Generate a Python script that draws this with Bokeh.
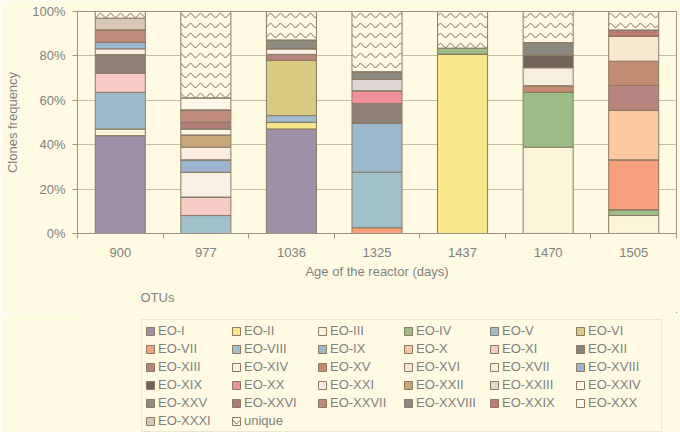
from bokeh.plotting import figure
from bokeh.layouts import column
from bokeh.models import (Range1d, FixedTicker, Legend, LegendItem, Title,
                          PrintfTickFormatter, ColumnDataSource)
from bokeh.embed import file_html
from bokeh.resources import INLINE

# ---- data ----
reactor_age = ["900", "977", "1036", "1325", "1437", "1470", "1505"]

otu_names = ["EO-I", "EO-II", "EO-III", "EO-IV", "EO-V", "EO-VI", "EO-VII",
             "EO-VIII", "EO-IX", "EO-X", "EO-XI", "EO-XII", "EO-XIII", "EO-XIV",
             "EO-XV", "EO-XVI", "EO-XVII", "EO-XVIII", "EO-XIX", "EO-XX", "EO-XXI",
             "EO-XXII", "EO-XXIII", "EO-XXIV", "EO-XXV", "EO-XXVI", "EO-XXVII",
             "EO-XXVIII", "EO-XXIX", "EO-XXX", "EO-XXXI", "unique"]

EO_I = [44.1, 0, 47.1, 0, 0, 0, 0]
EO_II = [0, 0, 3.0, 0, 80.8, 0, 0]
EO_III = [3.0, 0, 0, 0, 0, 38.9, 8.1]
EO_IV = [0, 0, 0, 0, 2.7, 24.7, 2.6]
EO_V = [16.5, 0, 3.0, 0, 0, 0, 0]
EO_VI = [0, 0, 24.9, 0, 0, 0, 0]
EO_VII = [0, 0, 0, 2.6, 0, 0, 22.5]
EO_VIII = [0, 8.1, 0, 25.0, 0, 0, 0]
EO_IX = [0, 0, 0, 22.1, 0, 0, 0]
EO_X = [0, 0, 0, 0, 0, 0, 22.2]
EO_XI = [8.6, 8.3, 0, 0, 0, 0, 0]
EO_XII = [8.4, 0, 0, 8.9, 0, 0, 0]
EO_XIII = [0, 0, 2.7, 0, 0, 0, 11.3]
EO_XIV = [0, 11.2, 2.6, 0, 0, 0, 0]
EO_XV = [0, 0, 0, 0, 0, 3.0, 10.9]
EO_XVI = [0, 0, 0, 0, 0, 0, 11.3]
EO_XVII = [2.6, 0, 0, 0, 0, 8.1, 0]
EO_XVIII = [3.0, 5.6, 0, 0, 0, 0, 0]
EO_XIX = [0, 0, 0, 0, 0, 5.7, 0]
EO_XX = [0, 0, 0, 5.7, 0, 0, 0]
EO_XXI = [0, 5.7, 0, 0, 0, 0, 0]
EO_XXII = [0, 5.5, 0, 0, 0, 0, 0]
EO_XXIII = [0, 0, 0, 5.1, 0, 0, 0]
EO_XXIV = [0, 2.7, 0, 0, 0, 0, 0]
EO_XXV = [0, 0, 3.9, 3.5, 0, 0, 0]
EO_XXVI = [0, 3.0, 0, 0, 0, 0, 0]
EO_XXVII = [5.6, 5.6, 0, 0, 0, 0, 0]
EO_XXVIII = [0, 0, 0, 0, 0, 5.6, 0]
EO_XXIX = [0, 0, 0, 0, 0, 0, 2.8]
EO_XXX = [0, 5.4, 0, 0, 0, 0, 0]
EO_XXXI = [5.2, 0, 0, 0, 0, 0, 0]
UNIQUE = [3.0, 38.9, 12.8, 27.1, 16.5, 14.0, 8.3]

y_ticks = [0, 20, 40, 60, 80, 100]

series = [EO_I, EO_II, EO_III, EO_IV, EO_V, EO_VI, EO_VII, EO_VIII, EO_IX, EO_X,
          EO_XI, EO_XII, EO_XIII, EO_XIV, EO_XV, EO_XVI, EO_XVII, EO_XVIII, EO_XIX,
          EO_XX, EO_XXI, EO_XXII, EO_XXIII, EO_XXIV, EO_XXV, EO_XXVI, EO_XXVII,
          EO_XXVIII, EO_XXIX, EO_XXX, EO_XXXI, UNIQUE]

colors = ["#9e90a8", "#f8e68a", "#fbf3da", "#9cbc88", "#a0bccc", "#d8ca80",
          "#f8a07c", "#a0c0cc", "#9cb8cc", "#fcc8a0", "#f8ccc6", "#8e8278",
          "#b88480", "#f8f1e4", "#c48a72", "#f8e8d2", "#f6efe0", "#9cb4d0",
          "#706458", "#f0909a", "#f8ede0", "#c8a878", "#e0d6d4", "#fdf8e4",
          "#8e8c80", "#b07c78", "#c08c80", "#8c8a80", "#c07c74", "#fdf8e8",
          "#d8c8b8", "#fffbe2"]

BG = "#fffbe2"
TXT = "#808080"
AX = "#a09480"
FONT = "Liberation Sans"

positions = [i + 0.5 for i in range(len(reactor_age))]
data = {"x": positions}
for name, vals in zip(otu_names, series):
    data[name] = vals
source = ColumnDataSource(data)

hatches = ["blank"] * (len(otu_names) - 1) + ["horizontal_wave"]
bar_style = dict(width=0.585, source=source, fill_color=colors,
                 line_color="#8a7a62", line_width=1, hatch_pattern=hatches,
                 hatch_color="#6e6658", hatch_scale=10, hatch_weight=1)

# ---- main chart ----
p = figure(width=680, height=312, output_backend="svg", toolbar_location=None,
           x_range=Range1d(0, len(reactor_age)), y_range=Range1d(0, 100),
           min_border_left=77, min_border_top=11, min_border_right=4,
           min_border_bottom=79)
p.background_fill_color = BG
p.border_fill_color = BG
p.outline_line_color = AX
p.outline_line_width = 1

p.vbar_stack(otu_names, x="x", **bar_style)

p.xaxis.ticker = FixedTicker(ticks=positions, minor_ticks=list(range(len(reactor_age) + 1)))
p.xaxis.major_label_overrides = {pos: lab for pos, lab in zip(positions, reactor_age)}
p.xaxis.major_tick_out = 0
p.xaxis.major_tick_in = 0
p.xaxis.minor_tick_out = 5
p.xaxis.minor_tick_in = 0
p.xaxis.axis_label = "Age of the reactor (days)"

p.yaxis.ticker = FixedTicker(ticks=y_ticks, minor_ticks=[])
p.yaxis.formatter = PrintfTickFormatter(format="%d%%")
p.yaxis.major_tick_out = 5
p.yaxis.major_tick_in = 0
p.yaxis.axis_label = "Clones frequency"

for ax in (p.xaxis, p.yaxis):
    ax.axis_line_color = AX
    ax.major_tick_line_color = AX
    ax.minor_tick_line_color = AX
    ax.major_label_text_color = TXT
    ax.major_label_text_font = FONT
    ax.major_label_text_font_size = "13px"
    ax.axis_label_text_color = TXT
    ax.axis_label_text_font = FONT
    ax.axis_label_text_font_size = "13px"
    ax.axis_label_text_font_style = "normal"
p.xaxis.major_label_standoff = 9
p.xaxis.axis_label_standoff = 4
p.yaxis.major_label_standoff = 7
p.yaxis.axis_label_standoff = 9

p.xgrid.visible = False
p.ygrid.grid_line_color = "#c8bca0"
p.ygrid.grid_line_width = 1

otus_title = Title(text="OTUs", align="left", offset=63, standoff=13,
                   text_font=FONT, text_font_size="13px", text_font_style="normal",
                   text_color=TXT)
p.add_layout(otus_title, "below")

# ---- legend panel (its own frame so the legend is not clipped) ----
pl = figure(width=680, height=120, output_backend="svg", toolbar_location=None,
            x_range=Range1d(-10, -9), y_range=Range1d(-10, -9),
            x_axis_location=None, y_axis_location=None, title_location=None,
            min_border_left=0, min_border_right=0, min_border_top=0,
            min_border_bottom=0)
pl.grid.visible = False
pl.outline_line_color = None
pl.background_fill_color = BG
pl.border_fill_color = BG
legend_renderers = pl.vbar_stack(otu_names, x="x", **bar_style)

items = [LegendItem(label=name, renderers=[r]) for name, r in zip(otu_names, legend_renderers)]
legend = Legend(items=items, orientation="horizontal", ncols=6, location=(64, 0),
                margin=0, padding=3, spacing=3, glyph_width=10, glyph_height=10,
                label_height=14, label_width=70, label_standoff=3,
                label_text_font=FONT, label_text_font_size="13px",
                label_text_color=TXT, background_fill_color=BG,
                background_fill_alpha=1.0, border_line_color="#ddd5bc",
                border_line_width=1)
pl.add_layout(legend)

layout = column(p, pl, spacing=0)
open("out.html", "w").write(file_html(layout, INLINE))
